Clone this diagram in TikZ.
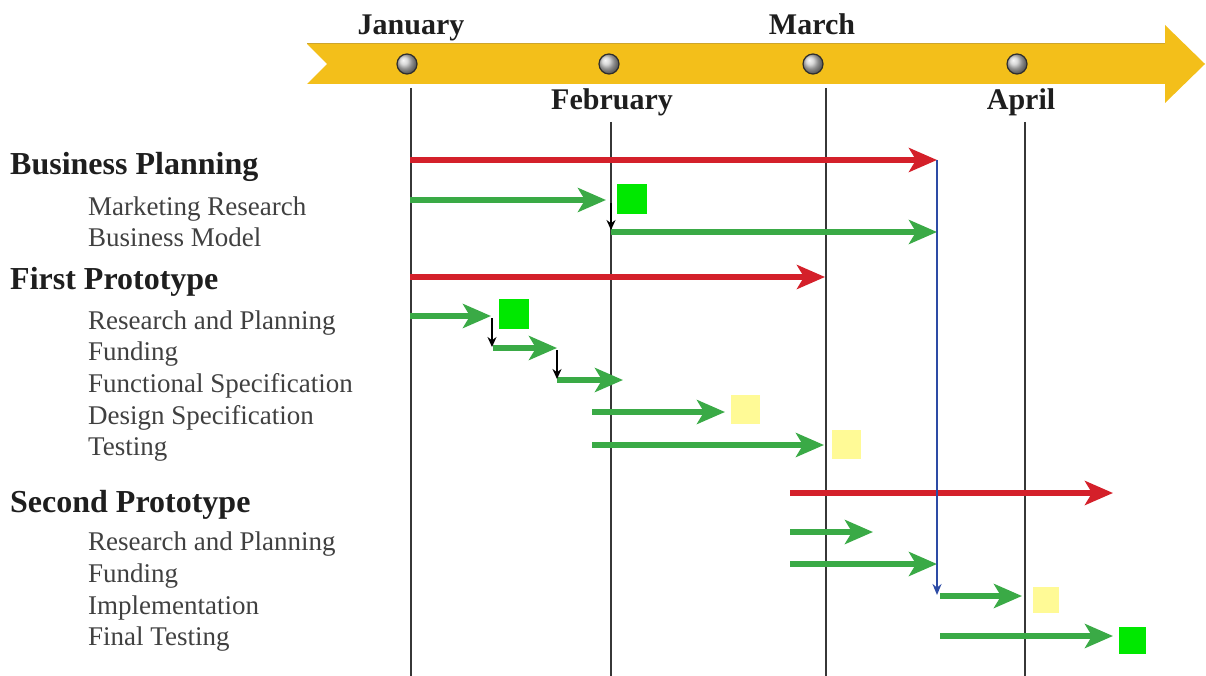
\documentclass[tikz,border=0pt]{standalone}
\usepackage{fontspec}
\setmainfont{Liberation Serif}
\usetikzlibrary{arrows.meta,shadings}
\definecolor{ribbon}{RGB}{243,191,26}
\definecolor{ribbonedge}{RGB}{205,165,45}
\definecolor{barred}{RGB}{212,32,42}
\definecolor{bargreen}{RGB}{58,170,70}
\definecolor{boxgreen}{RGB}{0,232,0}
\definecolor{boxyellow}{RGB}{255,250,150}
\definecolor{linkblue}{RGB}{45,75,165}
\definecolor{gridgray}{RGB}{55,55,55}
\definecolor{txt}{RGB}{30,30,30}
\begin{document}
\begin{tikzpicture}[x=1pt,y=-1pt,
  redbar/.style={draw=barred,line width=5.5pt,-{Stealth[length=28pt,width=24pt,inset=7pt]}},
  greenbar/.style={draw=bargreen,line width=5.5pt,-{Stealth[length=28pt,width=24pt,inset=7pt]}},
  deplink/.style={draw=black,line width=1.4pt,-{Stealth[length=10pt,width=9pt]}},
  bluelink/.style={draw=linkblue,line width=1.8pt,-{Stealth[length=11pt,width=9pt]}},
  gridline/.style={draw=gridgray,line width=1.8pt},
  milestone/.style={draw=none,minimum width=#1,minimum height=#1,inner sep=0pt},
  gbox/.style={milestone=30pt,fill=boxgreen},
  ybox/.style={milestone=29pt,fill=boxyellow},
  marker/.style={circle,minimum size=20pt,inner sep=0pt,shade,ball color=gray!40,draw=gray!35!black,line width=1.2pt},
  month/.style={anchor=base,inner sep=0pt,text=txt,font=\fontsize{30}{35}\selectfont\bfseries},
  heading/.style={anchor=base west,inner sep=0pt,text=txt,font=\fontsize{32}{38}\selectfont\bfseries},
  task/.style={anchor=base west,inner sep=0pt,text=txt!85,font=\fontsize{27}{32}\selectfont},
]
\useasboundingbox (0,0) rectangle (1206,676);

% timeline ribbon
\fill[ribbon] (307,44) -- (1165,44) -- (1165,25) -- (1205,64) -- (1165,103) -- (1165,84) -- (307,84) -- (327,64) -- cycle;
\draw[ribbonedge,line width=1pt] (307,44) -- (1165,44);

% month markers
\node[marker] (mj) at (407,64) {};
\node[marker] (mf) at (609,64) {};
\node[marker] (mm) at (813,64) {};
\node[marker] (ma) at (1017,64) {};

% month labels
\node[month] (lj) at (411,35) {January};
\node[month] (lf) at (612,110) {February};
\node[month] (lm) at (812,35) {March};
\node[month] (la) at (1021,110) {April};

% grid lines
\coordinate (jt) at (411,88);  \coordinate (jb) at (411,676);
\coordinate (ft) at (611,122); \coordinate (fb) at (611,676);
\coordinate (mt) at (826,88);  \coordinate (mb) at (826,676);
\coordinate (at) at (1025,122); \coordinate (ab) at (1025,676);
\draw[gridline] (jt) -- (jb);
\draw[gridline] (ft) -- (fb);
\draw[gridline] (mt) -- (mb);
\draw[gridline] (at) -- (ab);

% labels
\node[heading] (h1) at (10,175) {Business Planning};
\node[task] (t11) at (88,215) {Marketing Research};
\node[task] (t12) at (88,247) {Business Model};
\node[heading] (h2) at (10,289) {First Prototype};
\node[task] (t21) at (88,329) {Research and Planning};
\node[task] (t22) at (88,360) {Funding};
\node[task] (t23) at (88,392) {Functional Specification};
\node[task] (t24) at (88,424) {Design Specification};
\node[task] (t25) at (88,455) {Testing};
\node[heading] (h3) at (10,512) {Second Prototype};
\node[task] (t31) at (88,550) {Research and Planning};
\node[task] (t32) at (88,582) {Funding};
\node[task] (t33) at (88,614) {Implementation};
\node[task] (t34) at (88,645) {Final Testing};

% bar end points
\coordinate (b1s) at (410,160);  \coordinate (b1e) at (937,160);
\coordinate (b11s) at (410,200); \coordinate (b11e) at (606,200);
\coordinate (b12s) at (611,232); \coordinate (b12e) at (937,232);
\coordinate (b2s) at (410,277);  \coordinate (b2e) at (825,277);
\coordinate (b21s) at (410,316); \coordinate (b21e) at (491,316);
\coordinate (b22s) at (493,348); \coordinate (b22e) at (557,348);
\coordinate (b23s) at (557,380); \coordinate (b23e) at (623,380);
\coordinate (b24s) at (592,412); \coordinate (b24e) at (725,412);
\coordinate (b25s) at (592,445); \coordinate (b25e) at (824,445);
\coordinate (b3s) at (790,493);  \coordinate (b3e) at (1113,493);
\coordinate (b31s) at (790,532); \coordinate (b31e) at (873,532);
\coordinate (b32s) at (790,564); \coordinate (b32e) at (937,564);
\coordinate (b33s) at (940,596); \coordinate (b33e) at (1022,596);
\coordinate (b34s) at (940,636); \coordinate (b34e) at (1113,636);

% bars
\draw[redbar] (b1s) -- (b1e);
\draw[greenbar] (b11s) -- (b11e);
\draw[greenbar] (b12s) -- (b12e);
\draw[redbar] (b2s) -- (b2e);
\draw[greenbar] (b21s) -- (b21e);
\draw[greenbar] (b22s) -- (b22e);
\draw[greenbar] (b23s) -- (b23e);
\draw[greenbar] (b24s) -- (b24e);
\draw[greenbar] (b25s) -- (b25e);
\draw[redbar] (b3s) -- (b3e);
\draw[greenbar] (b31s) -- (b31e);
\draw[greenbar] (b32s) -- (b32e);
\draw[greenbar] (b33s) -- (b33e);
\draw[greenbar] (b34s) -- (b34e);

% milestones
\node[gbox] (g1) at (632,199) {};
\node[gbox] (g2) at (513.5,314) {};
\node[ybox] (y1) at (745,409) {};
\node[ybox] (y2) at (846,444) {};
\node[ybox,milestone=26pt] (y3) at (1045.5,599.5) {};
\node[gbox,milestone=27pt] (g3) at (1132.5,640.5) {};

% dependency links
\coordinate (d1s) at (611,203); \coordinate (d1e) at (611,230);
\coordinate (d2s) at (492,318); \coordinate (d2e) at (492,347);
\coordinate (d3s) at (557,350); \coordinate (d3e) at (557,379);
\draw[deplink] (d1s) -- (d1e);
\draw[deplink] (d2s) -- (d2e);
\draw[deplink] (d3s) -- (d3e);
\coordinate (bls) at (937,160); \coordinate (ble) at (937,595);
\draw[bluelink] (bls) -- (ble);
\end{tikzpicture}
\end{document}
